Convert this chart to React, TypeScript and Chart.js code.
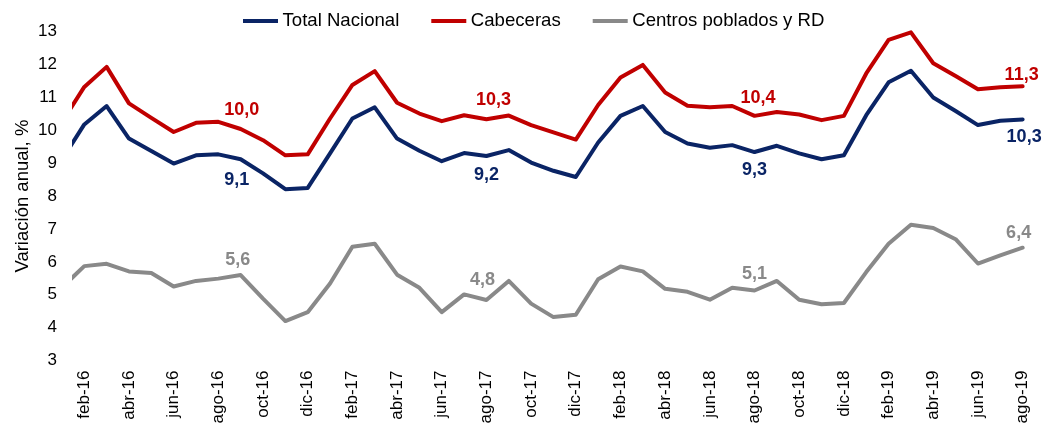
import React, { useEffect, useRef } from 'react';
import { Chart, registerables } from 'chart.js';

Chart.register(...registerables);

// ---- Data (monthly, ene-16 .. ago-19) ----
const monthNames = ['ene', 'feb', 'mar', 'abr', 'may', 'jun', 'jul', 'ago', 'sep', 'oct', 'nov', 'dic'];
const years = ['16', '17', '18', '19'];
const monthLabels: string[] = [];
years.forEach((y) => monthNames.forEach((m) => monthLabels.push(`${m}-${y}`)));
monthLabels.length = 44; // ene-16 .. ago-19

const totalNacional = [
  9.11, 10.18, 10.74, 9.75, 9.37, 8.99, 9.24, 9.27, 9.12, 8.69, 8.21, 8.25,
  9.30, 10.36, 10.70, 9.75, 9.38, 9.06, 9.31, 9.22, 9.40, 9.02, 8.77, 8.58,
  9.63, 10.44, 10.74, 9.95, 9.60, 9.47, 9.55, 9.34, 9.53, 9.30, 9.12, 9.24,
  10.46, 11.46, 11.81, 11.00, 10.59, 10.16, 10.29, 10.33,
];

const cabeceras = [
  10.25, 11.32, 11.93, 10.82, 10.38, 9.95, 10.23, 10.26, 10.04, 9.70, 9.24, 9.27,
  10.36, 11.38, 11.80, 10.84, 10.51, 10.28, 10.46, 10.34, 10.45, 10.16, 9.94, 9.72,
  10.77, 11.61, 11.99, 11.15, 10.75, 10.70, 10.74, 10.44, 10.56, 10.48, 10.31, 10.44,
  11.73, 12.75, 12.98, 12.04, 11.65, 11.25, 11.31, 11.34,
];

const centrosPoblados = [
  5.22, 5.87, 5.94, 5.71, 5.66, 5.25, 5.42, 5.49, 5.60, 4.88, 4.20, 4.47,
  5.34, 6.46, 6.55, 5.61, 5.21, 4.47, 5.01, 4.84, 5.42, 4.73, 4.32, 4.39,
  5.47, 5.86, 5.71, 5.18, 5.09, 4.85, 5.21, 5.13, 5.42, 4.85, 4.71, 4.75,
  5.69, 6.55, 7.13, 7.03, 6.69, 5.95, 6.20, 6.43,
];

const seriesNames = ['Total Nacional', 'Cabeceras', 'Centros poblados y RD'];
const tickIndices = monthLabels.map((_, i) => i).filter((i) => i % 2 === 1);
const labeledIndices = [8, 19, 31, 43];
const yTicks = [3, 4, 5, 6, 7, 8, 9, 10, 11, 12, 13];

// ---- Styles ----
const NAVY = '#0a2465';
const RED = '#c00000';
const GRAY = '#898989';
const FONT = '"Liberation Sans", Arial, sans-serif';

// label offsets [dx, dy] per series per labeled point
const labelOffsets: number[][][] = [
  [[-4, 21], [0, 19.5], [0, 18], [1.5, 18]],
  [[1, -19], [7, -19], [3.5, -18], [-1, -11]],
  [[-3, -15], [-4, -20], [0, -16], [-4, -15]],
];

const fmt = (v: number) => v.toFixed(1).replace('.', ',');

const legendPlugin = {
  id: 'customLegend',
  afterDraw(chart: any) {
    const ctx = chart.ctx;
    ctx.save();
    ctx.font = `18.6px ${FONT}`;
    ctx.textBaseline = 'middle';
    ctx.textAlign = 'left';
    let x = 243;
    const y = 21;
    chart.data.datasets.forEach((ds: any) => {
      ctx.strokeStyle = ds.borderColor;
      ctx.lineWidth = 4;
      ctx.lineCap = 'butt';
      ctx.beginPath();
      ctx.moveTo(x, y);
      ctx.lineTo(x + 35, y);
      ctx.stroke();
      x += 39.5;
      ctx.fillStyle = '#000';
      ctx.fillText(ds.label, x, y);
      x += ctx.measureText(ds.label).width + 32;
    });
    ctx.restore();
  },
};

const valueLabelPlugin = {
  id: 'valueLabels',
  afterDatasetsDraw(chart: any) {
    const ctx = chart.ctx;
    ctx.save();
    ctx.font = `bold 18px ${FONT}`;
    ctx.textAlign = 'center';
    ctx.textBaseline = 'middle';
    chart.data.datasets.forEach((ds: any, di: number) => {
      const meta = chart.getDatasetMeta(di);
      labeledIndices.forEach((idx, k) => {
        const pt = meta.data[idx];
        if (!pt) return;
        const [dx, dy] = labelOffsets[di][k];
        ctx.fillStyle = ds.borderColor;
        ctx.fillText(fmt(ds.data[idx].y), pt.x + dx, pt.y + dy);
      });
    });
    ctx.restore();
  },
};

export default function App() {
  const canvasRef = useRef<HTMLCanvasElement | null>(null);

  useEffect(() => {
    document.body.style.margin = '0';
    const canvas = canvasRef.current;
    if (!canvas) return;

    const mk = (label: string, values: number[], color: string) => ({
      label,
      data: values.map((v, i) => ({ x: i, y: v })),
      borderColor: color,
      backgroundColor: color,
      borderWidth: 4,
      pointRadius: 0,
      pointHoverRadius: 0,
      tension: 0,
      borderJoinStyle: 'round' as const,
      borderCapStyle: 'round' as const,
      clip: { left: 0, top: 8, right: 8, bottom: 8 },
    });

    const chart = new Chart(canvas, {
      type: 'line',
      data: {
        datasets: [
          mk(seriesNames[0], totalNacional, NAVY),
          mk(seriesNames[1], cabeceras, RED),
          mk(seriesNames[2], centrosPoblados, GRAY),
        ],
      },
      options: {
        animation: false,
        responsive: true,
        maintainAspectRatio: false,
        layout: { padding: { top: 31.7, right: 9.2, left: 0, bottom: 0 } },
        plugins: {
          legend: { display: false },
          tooltip: { enabled: false },
        },
        scales: {
          x: {
            type: 'linear',
            min: 0.45,
            max: 43.5,
            grid: { display: false, drawTicks: false },
            border: { display: false },
            ticks: {
              autoSkip: false,
              minRotation: 90,
              maxRotation: 90,
              padding: 10,
              color: '#000',
              font: { size: 17, family: FONT },
              callback: (v: any) => monthLabels[Math.round(Number(v))] ?? '',
            },
            afterBuildTicks: (s: any) => {
              s.ticks = tickIndices.map((v) => ({ value: v }));
            },
            afterFit: (s: any) => {
              s.height = 66.5;
              s.paddingLeft = 0;
              s.paddingRight = 0;
            },
          },
          y: {
            min: 3,
            max: 13,
            grid: { display: false, drawTicks: false },
            border: { display: false },
            ticks: {
              stepSize: 1,
              padding: 15,
              color: '#000',
              font: { size: 17, family: FONT },
            },
            afterBuildTicks: (s: any) => {
              s.ticks = yTicks.map((v) => ({ value: v }));
            },
            title: {
              display: true,
              text: 'Variación anual, %',
              color: '#000',
              font: { size: 18.5, family: FONT },
              padding: { top: 12, bottom: 0 },
            },
            afterFit: (s: any) => {
              s.width = 72;
              s.paddingTop = 0;
              s.paddingBottom = 0;
            },
          },
        },
      } as any,
      plugins: [legendPlugin, valueLabelPlugin],
    });

    return () => chart.destroy();
  }, []);

  return (
    <div style={{ position: 'relative', width: '1043px', height: '427px', overflow: 'hidden' }}>
      <canvas ref={canvasRef} />
    </div>
  );
}
